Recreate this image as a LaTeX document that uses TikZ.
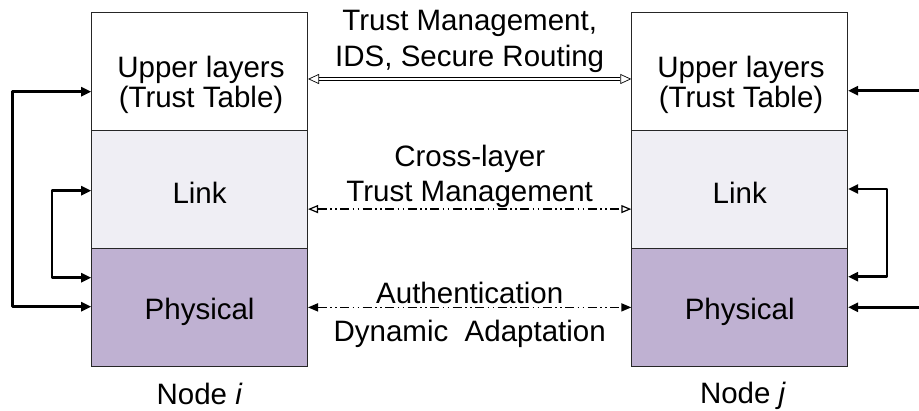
\documentclass[tikz,border=0pt]{standalone}
\usepackage{fontspec}
\setmainfont{Liberation Sans}
\usetikzlibrary{arrows.meta}
\definecolor{linkc}{RGB}{239,238,244}
\definecolor{physc}{RGB}{191,177,210}
\begin{document}
\begin{tikzpicture}[x=1pt,y=-1pt,
  layer/.style={draw=black!85, line width=0.8pt, minimum width=216pt, minimum height=118pt, inner sep=0pt},
  lbl/.style={anchor=base, inner sep=0pt, font=\fontsize{29.5}{35}\selectfont},
  fb/.style={line width=2.6pt, line join=round, {Triangle[length=10pt,width=9pt]}-{Triangle[length=10pt,width=9pt]}},
  fbone/.style={line width=2.6pt, -{Triangle[length=10pt,width=9pt]}},
  dd/.style={dash pattern=on 9pt off 3.5pt on 1.5pt off 3.5pt on 1.5pt off 3.5pt},
  toparr/.style={double, double distance=2.2pt, line width=0.7pt, {Triangle[open,length=11pt,width=10pt]}-{Triangle[open,length=11pt,width=10pt]}},
  midarr/.style={dd, line width=1.2pt, {Triangle[open,length=10pt,width=8pt]}-{Triangle[open,length=10pt,width=8pt]}},
  botarr/.style={dd, line width=1.6pt, {Triangle[length=10pt,width=8pt]}-{Triangle[length=10pt,width=8pt]}}
]
\useasboundingbox (0,0) rectangle (919,411);
% boxes node i
\node[layer, fill=white] (iu) at (199.6,71.2) {};
\node[layer, fill=linkc] (il) at (199.6,189.1) {};
\node[layer, fill=physc] (ip) at (199.6,307.4) {};
% boxes node j
\node[layer, fill=white] (ju) at (739.7,71.2) {};
\node[layer, fill=linkc] (jl) at (739.7,189.1) {};
\node[layer, fill=physc] (jp) at (739.7,307.4) {};
% labels in boxes
\node[lbl] (t1) at (201,78) {Upper layers};
\node[lbl] (t2) at (201,107.3) {(Trust Table)};
\node[lbl] (t3) at (199.6,203.3) {Link};
\node[lbl] (t4) at (199.6,320) {Physical};
\node[lbl] (t5) at (741,78) {Upper layers};
\node[lbl] (t6) at (741,107.3) {(Trust Table)};
\node[lbl] (t7) at (739.7,203.3) {Link};
\node[lbl] (t8) at (739.7,320) {Physical};
\node[lbl] (ni) at (199.6,405) {Node \textit{i}};
\node[lbl] (nj) at (743,403.5) {Node \textit{j}};
% middle labels
\node[lbl] (m1) at (469.7,30.7) {Trust Management,};
\node[lbl] (m2) at (469.7,66.7) {IDS, Secure Routing};
\node[lbl] (m3) at (469.7,166.7) {Cross-layer};
\node[lbl] (m4) at (469.7,201.7) {Trust Management};
\node[lbl] (m5) at (469.7,303.3) {Authentication};
\node[lbl] (m6) at (469.7,341.7) {Dynamic\ \ Adaptation};
% middle arrows
\draw[toparr] ([yshift=-7.8pt]iu.east) -- ([yshift=-7.8pt]ju.west);
\draw[midarr] ([yshift=-20pt]il.east) -- ([yshift=-20pt]jl.west);
\draw[botarr] (ip.east) -- (jp.west);
% feedback node i
\draw[fb] ([yshift=-20.5pt]iu.west) -- ++(-79,0) |- ([yshift=0.7pt]ip.west);
\draw[fb] ([yshift=-1.6pt]il.west) -- ++(-39.2,0) |- ([yshift=29.7pt]ip.west);
% feedback node j
\coordinate (r1) at (919,90.7);
\coordinate (r2) at (919,307.3);
\draw[fbone] (r1) -- (r1 -| ju.east);
\draw[fbone] (r2) -- (r2 -| jp.east);
\draw[fb] ([yshift=0.1pt]jl.east) -- ++(39,0) |- ([yshift=30.7pt]jp.east);
\end{tikzpicture}
\end{document}
